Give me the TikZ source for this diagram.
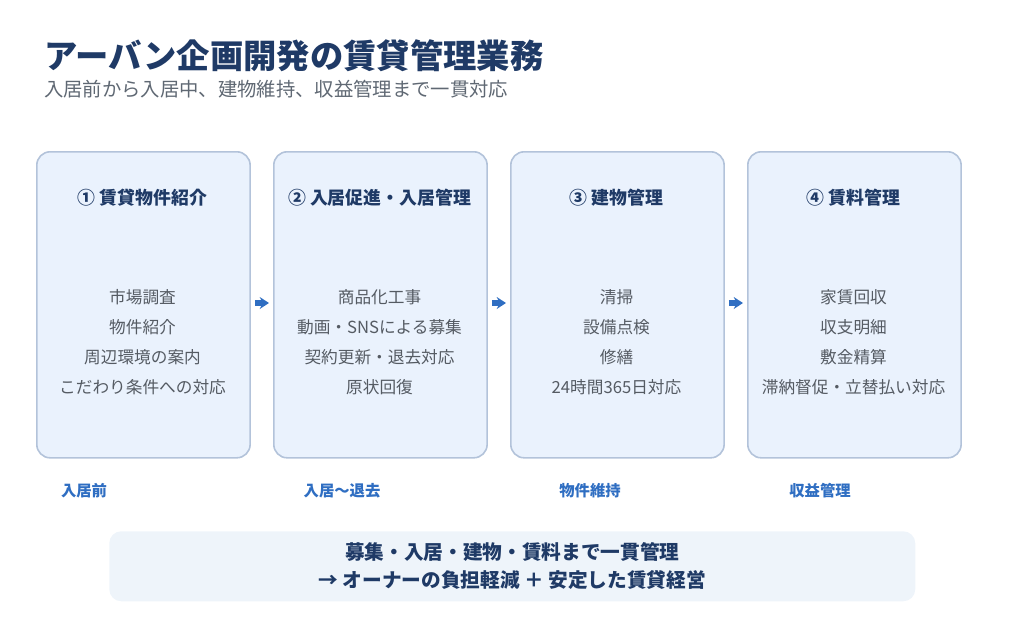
\documentclass[tikz,border=0pt]{standalone}
\usepackage{fontspec}
\setmainfont{Noto Sans CJK JP}
\usetikzlibrary{positioning,arrows.meta}
\definecolor{navy}{HTML}{1F3A66}
\definecolor{subgray}{HTML}{5F6873}
\definecolor{boxfill}{HTML}{EAF2FD}
\definecolor{boxline}{HTML}{B3C3DA}
\definecolor{itemgray}{HTML}{555B63}
\definecolor{phaseblue}{HTML}{2F6EC2}
\definecolor{notefill}{HTML}{EEF4FA}
\tikzset{
  stage/.style={draw=boxline,fill=boxfill,line width=1.2pt,rounded corners=10pt,
    minimum width=160pt,minimum height=229.5pt,anchor=north west},
  head/.style={font=\fontsize{13.4}{16}\selectfont\bfseries,text=navy},
  item/.style={font=\fontsize{12.5}{22.5}\selectfont,text=itemgray,align=center},
  phase/.style={font=\fontsize{11.5}{13}\selectfont\bfseries,text=phaseblue},
  flow/.style={-{Stealth[length=7pt,width=9pt]},line width=4pt,phaseblue,shorten <=3pt,shorten >=3pt}
}
\begin{document}
\begin{tikzpicture}[x=0.75pt,y=-0.75pt]
\useasboundingbox (0,0) rectangle (1024,640);
\node[anchor=west,inner sep=0pt,font=\fontsize{25}{29}\selectfont\bfseries,text=navy] (title) at (44,56) {アーバン企画開発の賃貸管理業務};
\node[anchor=west,inner sep=0pt,font=\fontsize{14.5}{17}\selectfont,text=subgray] (sub) at (44,89) {入居前から入居中、建物維持、収益管理まで一貫対応};

% stages
\node[stage] (s1) at (36,151) {};
\node[stage] (s2) at (273,151) {};
\node[stage] (s3) at (510,151) {};
\node[stage] (s4) at (747,151) {};

\node[head] (h1) at (142.5,198) {① 賃貸物件紹介};
\node[head] (h2) at (379.5,198) {② 入居促進・入居管理};
\node[head] (h3) at (616.5,198) {③ 建物管理};
\node[head] (h4) at (853.5,198) {④ 賃料管理};

\node[item] (i1) at (142.5,342) {市場調査\\物件紹介\\周辺環境の案内\\こだわり条件への対応};
\node[item] (i2) at (379.5,342) {商品化工事\\動画・SNSによる募集\\契約更新・退去対応\\原状回復};
\node[item] (i3) at (616.5,342) {清掃\\設備点検\\修繕\\24時間365日対応};
\node[item] (i4) at (853.5,342) {家賃回収\\収支明細\\敷金精算\\滞納督促・立替払い対応};

\draw[flow] ([yshift=-114pt]s1.north east) -- ([yshift=-114pt]s2.north west);
\draw[flow] ([yshift=-114pt]s2.north east) -- ([yshift=-114pt]s3.north west);
\draw[flow] ([yshift=-114pt]s3.north east) -- ([yshift=-114pt]s4.north west);

% phases
\node[phase] (p1) at (84,491) {入居前};
\node[phase] (p2) at (342,491) {入居〜退去};
\node[phase] (p3) at (590,491) {物件維持};
\node[phase] (p4) at (820,491) {収益管理};

% summary
\node[fill=notefill,rounded corners=9pt,minimum width=604.5pt,minimum height=52.5pt,anchor=north west] (note) at (109,531) {};
\node[font=\fontsize{14.75}{21}\selectfont\bfseries,text=navy,align=center] (notetext) at (note.center) {募集・入居・建物・賃料まで一貫管理\\→ オーナーの負担軽減 ＋ 安定した賃貸経営};
\end{tikzpicture}
\end{document}
